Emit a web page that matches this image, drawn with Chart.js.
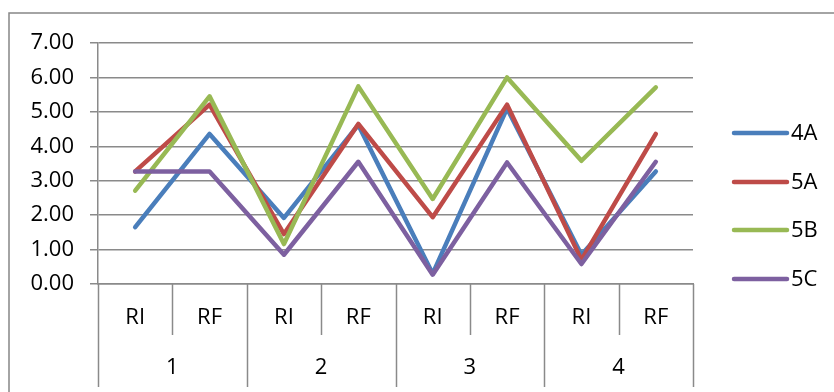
<!DOCTYPE html>
<html>
<head>
<meta charset="utf-8">
<script src="https://cdn.jsdelivr.net/npm/chart.js@4/dist/chart.umd.min.js"></script>
<style>
  html, body { margin: 0; padding: 0; background: #ffffff; }
  #wrap { width: 834px; height: 392px; }
</style>
</head>
<body>
<div id="wrap"><canvas id="c" width="834" height="392"></canvas></div>
<script>
// Sub-categories along the x axis and their groups
const categories = ['RI', 'RF', 'RI', 'RF', 'RI', 'RF', 'RI', 'RF'];
const groups = ['1', '2', '3', '4'];
const yTicks = [0, 1, 2, 3, 4, 5, 6, 7];

// Series values
const s4A = [1.65, 4.36, 1.92, 4.62, 0.30, 5.10, 0.85, 3.27];
const s5A = [3.27, 5.21, 1.45, 4.65, 1.94, 5.21, 0.70, 4.36];
const s5B = [2.71, 5.45, 1.16, 5.74, 2.47, 6.00, 3.58, 5.71];
const s5C = [3.27, 3.27, 0.85, 3.55, 0.27, 3.53, 0.58, 3.55];

const seriesNames = ['4A', '5A', '5B', '5C'];
const seriesColors = ['#4A7EBB', '#BE4B48', '#98B954', '#7D60A0'];

const FONT = '"Open Sans", "DejaVu Sans", sans-serif';
const FONT_SIZE = 22;
const AXIS_GRAY = '#8a8a8a';

const makeSet = (i, values) => ({
  label: seriesNames[i],
  data: values,
  borderColor: seriesColors[i],
  backgroundColor: seriesColors[i],
  borderWidth: 4.5,
  borderCapStyle: 'round',
  borderJoinStyle: 'round',
  pointRadius: 0,
  tension: 0,
  fill: false,
  order: 4 - i
});

// Group row, separators, chart border and legend
const extrasPlugin = {
  id: 'extras',
  afterDraw(chart) {
    const ctx = chart.ctx;
    const x = chart.scales.x;
    const area = chart.chartArea;
    const n = categories.length;
    const step = (area.right - area.left) / n;
    const base = area.bottom;

    ctx.save();
    ctx.strokeStyle = AXIS_GRAY;
    ctx.lineWidth = 1.5;
    // separators between sub-categories (short) and groups (long)
    for (let i = 0; i <= n; i++) {
      const px = Math.round(x.getPixelForValue(0) - step / 2 + i * step) + 0.5;
      const long = (i % 2 === 0);
      ctx.beginPath();
      ctx.moveTo(px, base);
      ctx.lineTo(px, long ? 387 : 335);
      ctx.stroke();
    }
    // group labels centred under each pair
    ctx.fillStyle = '#000';
    ctx.font = FONT_SIZE + 'px ' + FONT;
    ctx.textAlign = 'center';
    ctx.textBaseline = 'middle';
    groups.forEach((g, gi) => {
      const cx = (x.getPixelForValue(gi * 2) + x.getPixelForValue(gi * 2 + 1)) / 2;
      ctx.fillText(g, cx, 368);
    });

    // outer chart border
    ctx.strokeStyle = '#878787';
    ctx.lineWidth = 1.5;
    ctx.strokeRect(9, 13, 900, 500);

    // legend
    const legendY = [133, 182, 230, 279];
    ctx.textAlign = 'left';
    ctx.lineCap = 'round';
    seriesNames.forEach((name, i) => {
      ctx.strokeStyle = seriesColors[i];
      ctx.lineWidth = 4.5;
      ctx.beginPath();
      ctx.moveTo(734, legendY[i]);
      ctx.lineTo(787, legendY[i]);
      ctx.stroke();
      ctx.fillStyle = '#000';
      ctx.fillText(name, 791, legendY[i] + 1);
    });
    ctx.restore();
  }
};

new Chart(document.getElementById('c'), {
  type: 'line',
  data: {
    labels: categories,
    datasets: [makeSet(0, s4A), makeSet(1, s5A), makeSet(2, s5B), makeSet(3, s5C)]
  },
  options: {
    responsive: false,
    animation: false,
    devicePixelRatio: 1,
    layout: { padding: { top: 43, right: 141, left: 0, bottom: 0 } },
    plugins: { legend: { display: false }, tooltip: { enabled: false } },
    scales: {
      x: {
        type: 'category',
        offset: true,
        grid: { display: false, drawTicks: false },
        border: { display: true, color: AXIS_GRAY, width: 1.5 },
        ticks: {
          color: '#000',
          font: { family: FONT, size: FONT_SIZE },
          padding: 21,
          maxRotation: 0,
          autoSkip: false
        },
        afterFit(scale) { scale.height = 108; }
      },
      y: {
        min: 0,
        max: 7,
        afterBuildTicks(scale) { scale.ticks = yTicks.map(v => ({ value: v })); },
        grid: {
          color: AXIS_GRAY,
          lineWidth: 1.5,
          drawTicks: true,
          tickLength: 8
        },
        border: { display: true, color: AXIS_GRAY, width: 1.5 },
        ticks: {
          color: '#000',
          font: { family: FONT, size: FONT_SIZE },
          padding: 16,
          callback: (v) => Number(v).toFixed(2)
        },
        afterFit(scale) { scale.width = 98; }
      }
    }
  },
  plugins: [extrasPlugin]
});
</script>
</body>
</html>
